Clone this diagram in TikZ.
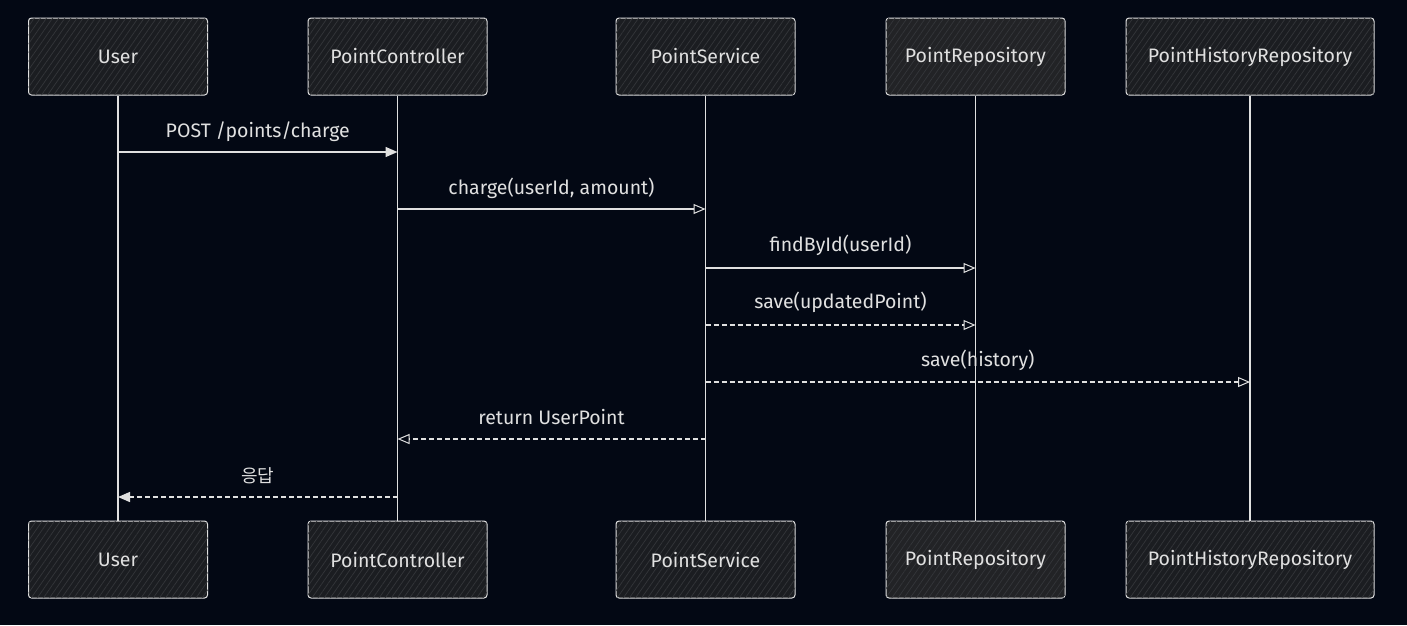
\documentclass[tikz,border=0pt]{standalone}
\usepackage{fontspec}
\setmainfont{Fira Sans}
\newfontfamily\krfont{Noto Sans CJK KR}
\usetikzlibrary{arrows.meta,patterns.meta}
\definecolor{bg}{HTML}{030814}
\definecolor{boxfill}{HTML}{1B1D21}
\definecolor{boxfillb}{HTML}{222326}
\definecolor{ink}{HTML}{E0E0E0}
\definecolor{hatch}{HTML}{34363A}
\tikzset{
  actor/.style={draw=ink, line width=1pt, rounded corners=3pt, fill=boxfill,
    postaction={pattern={Lines[angle=55,distance=5pt,line width=0.7pt]}, pattern color=hatch},
    minimum height=77pt, text=ink, font=\fontsize{19.5}{22}\selectfont, inner sep=0pt},
  life/.style={draw=ink, line width=1.4pt},
  msg/.style={draw=ink, line width=1.4pt, -{Triangle[length=12pt,width=10pt,fill=ink]}},
  msgo/.style={draw=ink, line width=1.4pt, -{Triangle[open,length=12pt,width=10pt,line width=1pt]}},
  dsh/.style={dash pattern=on 5pt off 3pt},
  lbl/.style={text=ink, font=\fontsize{19.5}{22}\selectfont, inner sep=0pt, anchor=base}
}
\begin{document}
\begin{tikzpicture}[x=1pt,y=-1pt]
\fill[bg] (0,0) rectangle (1407,625);
\useasboundingbox (0,0) rectangle (1407,625);
% top actors
\node[actor, minimum width=179pt] (uT) at (118,56.5) {User};
\node[actor, minimum width=179pt] (cT) at (397.5,56.5) {PointController};
\node[actor, minimum width=179pt] (sT) at (705.5,56.5) {PointService};
\node[actor, minimum width=179pt, fill=boxfillb] (rT) at (975.5,56.5) {PointRepository};
\node[actor, minimum width=248pt] (hT) at (1250,56.5) {PointHistoryRepository};
% bottom actors
\node[actor, minimum width=179pt] (uB) at (118,559.5) {User};
\node[actor, minimum width=179pt] (cB) at (397.5,559.5) {PointController};
\node[actor, minimum width=179pt] (sB) at (705.5,559.5) {PointService};
\node[actor, minimum width=179pt, fill=boxfillb] (rB) at (975.5,559.5) {PointRepository};
\node[actor, minimum width=248pt] (hB) at (1250,559.5) {PointHistoryRepository};
% lifelines
\draw[life] (uT.south) -- (uB.north);
\draw[life] (cT.south) -- (cB.north);
\draw[life] (sT.south) -- (sB.north);
\draw[life] (rT.south) -- (rB.north);
\draw[life] (hT.south) -- (hB.north);
% message anchor points
\coordinate (m1a) at (uT.south |- 0,152);
\coordinate (m1b) at (cT.south |- 0,152);
\coordinate (m2a) at (cT.south |- 0,209);
\coordinate (m2b) at (sT.south |- 0,209);
\coordinate (m3a) at (sT.south |- 0,268);
\coordinate (m3b) at (rT.south |- 0,268);
\coordinate (m4a) at (sT.south |- 0,325);
\coordinate (m4b) at (rT.south |- 0,325);
\coordinate (m5a) at (sT.south |- 0,382);
\coordinate (m5b) at (hT.south |- 0,382);
\coordinate (m6a) at (sT.south |- 0,439);
\coordinate (m6b) at (cT.south |- 0,439);
\coordinate (m7a) at (cT.south |- 0,497);
\coordinate (m7b) at (uT.south |- 0,497);
% messages
\draw[msg] (m1a) -- node[lbl, yshift=15pt] (l1) {POST /points/charge} (m1b);
\draw[msgo] (m2a) -- node[lbl, yshift=15pt] (l2) {charge(userId, amount)} (m2b);
\draw[msgo] (m3a) -- node[lbl, yshift=17pt] (l3) {findById(userId)} (m3b);
\draw[msgo, dsh] (m4a) -- node[lbl, yshift=17pt] (l4) {save(updatedPoint)} (m4b);
\draw[msgo, dsh] (m5a) -- node[lbl, yshift=16pt] (l5) {save(history)} (m5b);
\draw[msgo, dsh] (m6a) -- node[lbl, yshift=15pt] (l6) {return UserPoint} (m6b);
\draw[msg, dsh] (m7a) -- node[lbl, yshift=15pt, font=\krfont\fontsize{18}{22}\selectfont] (l7) {응답} (m7b);
\end{tikzpicture}
\end{document}
